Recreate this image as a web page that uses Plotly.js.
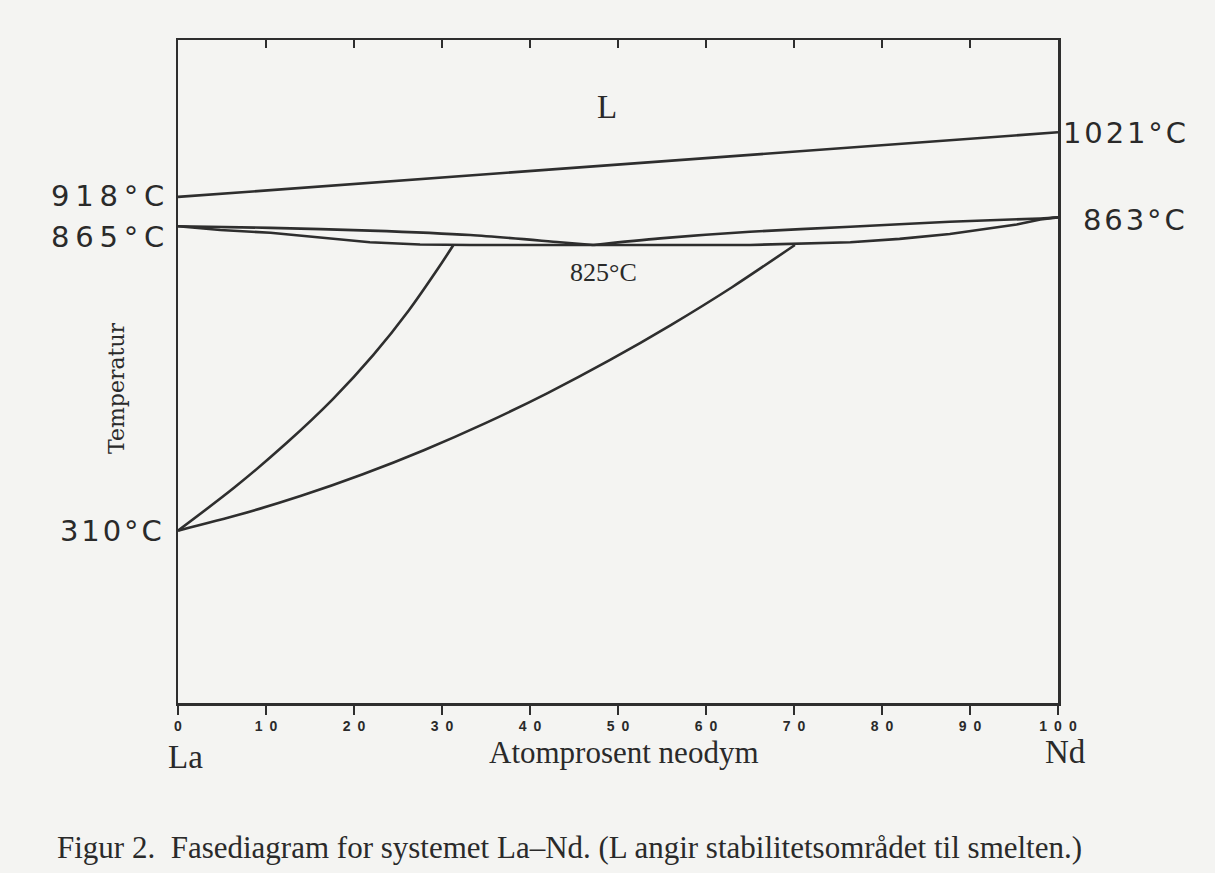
<!DOCTYPE html>
<html>
<head>
<meta charset="utf-8">
<script src="https://cdn.plot.ly/plotly-3.0.1.min.js"></script>
<style>html,body{margin:0;padding:0;background:#f4f4f2;}#chart{width:1215px;height:873px;}</style>
</head>
<body>
<div id="chart"></div>
<script>
// Atomic % Nd (x) and temperature-like vertical position (°C scale of the drawing)
const liqTopX = [0, 100];
const liqTopT = [916, 1033];

const lensUpperLeftX = [0, 10.5, 21.8, 33.2, 43.4, 47.2];
const lensUpperLeftT = [863, 860, 855, 847, 834, 829];
const lensUpperRightX = [47.2, 54.8, 65, 76.4, 87.7, 98, 100];
const lensUpperRightT = [829, 841, 853, 862, 871, 877, 879];

const lensLowerX = [0, 4.8, 10.5, 16.1, 21.8, 27.5, 33.2, 47.2, 65, 76.4, 82, 87.7, 91.5, 95.3, 98, 100];
const lensLowerT = [863, 856, 851, 842, 834, 830, 829, 829, 829, 834, 840, 849, 857, 866, 875, 879];

const solvusLeftX = [0, 6.4, 12.3, 17.6, 22.2, 26.2, 29.7, 31.3];
const solvusLeftT = [312, 390, 470, 550, 630, 710, 790, 829];

const solvusRightX = [0, 7, 14, 21, 28, 35, 42, 49, 56, 63, 70.1];
const solvusRightT = [312, 341, 375, 414, 458, 507, 561, 620, 684, 753, 829];

const tickVals = [0, 10, 20, 30, 40, 50, 60, 70, 80, 90, 100];
const tickLabels = ['0', '1\u20020', '2\u20020', '3\u20020', '4\u20020', '5\u20020', '6\u20020', '7\u20020', '8\u20020', '9\u20020', '1\u20020\u20020'];

const lineStyle = {color: '#2e2e2e', width: 2.6};
const mk = (x, y, shape) => ({x: x, y: y, type: 'scatter', mode: 'lines',
  line: Object.assign({}, lineStyle, {shape: shape || 'linear', smoothing: 0.8}),
  hoverinfo: 'skip', showlegend: false});

const traces = [
  mk(liqTopX, liqTopT),
  mk(lensUpperLeftX, lensUpperLeftT, 'spline'),
  mk(lensUpperRightX, lensUpperRightT, 'spline'),
  mk(lensLowerX, lensLowerT),
  mk(solvusLeftX, solvusLeftT, 'spline'),
  mk(solvusRightX, solvusRightT, 'spline'),
  {x: [0, 100], y: [0, 0], xaxis: 'x2', type: 'scatter', mode: 'none', hoverinfo: 'skip', showlegend: false}
];

const W = 1215, H = 873, L = 178, R = 1058, T = 40, B = 703;
const px = v => (v - L) / (R - L);
const py = v => (B - v) / (B - T);
const sans = {family: 'DejaVu Sans, sans-serif', size: 29, color: '#2a2a2a'};
const serif = {family: 'Liberation Serif, Times New Roman, serif', color: '#2a2a2a'};
const spaced = (s, sp) => s.split('').join(sp);
const ann = (text, x, y, font, xanchor, extra) => Object.assign({
  text: text, xref: 'paper', yref: 'paper', x: px(x), y: py(y), xanchor: xanchor || 'center',
  yanchor: 'middle', showarrow: false, font: font}, extra || {});

const annotations = [
  ann(spaced('918°C', '\u2009'), 166, 196, sans, 'right'),
  ann(spaced('865°C', '\u2009'), 166, 237, sans, 'right'),
  ann(spaced('310°C', '\u200A'), 164, 531, sans, 'right'),
  ann(spaced('1021°C', '\u200A'), 1061, 133, sans, 'left'),
  ann(spaced('863°C', '\u200A'), 1081, 220, sans, 'left'),
  ann('L', 607, 107, Object.assign({}, serif, {size: 33})),
  ann('825°C', 603, 272, Object.assign({}, serif, {size: 26})),
  ann('Temperatur', 116, 388, {family: 'DejaVu Serif, serif', size: 22, color: '#2a2a2a'}, 'center', {textangle: -90}),
  ann('La', 185, 757, Object.assign({}, serif, {size: 33})),
  ann('Nd', 1065, 752, Object.assign({}, serif, {size: 33})),
  ann('Atomprosent neodym', 624, 752, Object.assign({}, serif, {size: 31})),
  ann('Figur 2.  Fasediagram for systemet La–Nd. (L angir stabilitetsområdet til smelten.)', 55, 847,
      Object.assign({}, serif, {size: 31}), 'left')
];

const layout = {
  width: W, height: H,
  paper_bgcolor: '#f4f4f2', plot_bgcolor: '#f4f4f2',
  margin: {l: L, r: W - R, t: T, b: H - B},
  showlegend: false,
  xaxis: {range: [0, 100], tickvals: tickVals, ticktext: tickLabels, ticks: 'outside', ticklen: 9,
    tickwidth: 2, tickcolor: '#2e2e2e', showgrid: false, zeroline: false, showline: true,
    linecolor: '#2e2e2e', linewidth: 2.5, mirror: true,
    tickfont: {family: 'Liberation Sans, Arial, sans-serif', size: 14, color: '#2a2a2a', weight: 700}},
  xaxis2: {range: [0, 100], overlaying: 'x', side: 'top', tickvals: tickVals, showticklabels: false,
    ticks: 'inside', ticklen: 8, tickwidth: 2, tickcolor: '#2e2e2e', showgrid: false, zeroline: false,
    showline: false},
  yaxis: {range: [0, 1200], showticklabels: false, ticks: '', showgrid: false, zeroline: false,
    showline: true, linecolor: '#2e2e2e', linewidth: 2.5, mirror: true},
  annotations: annotations
};

Plotly.newPlot('chart', traces, layout, {displayModeBar: false, staticPlot: true});
</script>
</body>
</html>
